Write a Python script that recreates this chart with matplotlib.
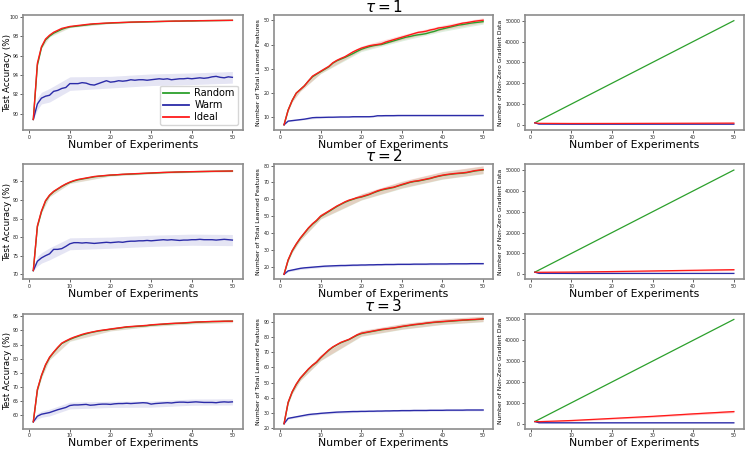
import numpy as np
import matplotlib
matplotlib.use("Agg")
import matplotlib.pyplot as plt

x = np.arange(1, 51)
x_band = np.array([1, 2, 3, 5, 10, 20, 30, 40, 50])
taus = [1, 2, 3]
names = ["Random", "Warm", "Ideal"]
colors = {"Random": "#2ca02c", "Warm": "#2b2ba8", "Ideal": "#ff1a1a"}

# ---- test accuracy (%) ----
acc = {
    1: {
        "Ideal": [89.4, 95.2, 96.9, 97.7, 98.1, 98.4, 98.6, 98.8, 98.9, 99.0,
                  99.05, 99.1, 99.15, 99.2, 99.25, 99.28, 99.3, 99.33, 99.35, 99.37,
                  99.39, 99.4, 99.42, 99.43, 99.45, 99.46, 99.47, 99.48, 99.49, 99.5,
                  99.51, 99.52, 99.53, 99.54, 99.55, 99.56, 99.56, 99.57, 99.58, 99.58,
                  99.59, 99.6, 99.6, 99.61, 99.61, 99.62, 99.62, 99.63, 99.63, 99.64],
        "Random": [89.4, 95.0, 96.8, 97.6, 98.0, 98.3, 98.5, 98.7, 98.85, 98.95,
                   99.0, 99.05, 99.1, 99.15, 99.2, 99.25, 99.28, 99.3, 99.33, 99.35,
                   99.37, 99.39, 99.4, 99.42, 99.44, 99.45, 99.46, 99.47, 99.48, 99.49,
                   99.5, 99.51, 99.52, 99.53, 99.54, 99.55, 99.55, 99.56, 99.57, 99.57,
                   99.58, 99.59, 99.6, 99.6, 99.61, 99.61, 99.62, 99.62, 99.63, 99.63],
        "Warm": [89.4, 91.0, 91.6, 91.8, 91.9, 92.3, 92.4, 92.6, 92.7, 93.1,
                 93.1, 93.1, 93.2, 93.15, 93.0, 92.95, 93.1, 93.25, 93.4, 93.25,
                 93.3, 93.4, 93.35, 93.4, 93.5, 93.45, 93.5, 93.5, 93.45, 93.5,
                 93.55, 93.6, 93.55, 93.6, 93.5, 93.55, 93.6, 93.6, 93.65, 93.6,
                 93.65, 93.7, 93.65, 93.7, 93.8, 93.85, 93.75, 93.7, 93.8, 93.75],
    },
    2: {
        "Ideal": [71.0, 83.0, 87.0, 89.8, 91.3, 92.3, 93.0, 93.7, 94.3, 94.8,
                  95.2, 95.5, 95.7, 95.9, 96.1, 96.3, 96.4, 96.5, 96.6, 96.7,
                  96.75, 96.8, 96.9, 96.95, 97.0, 97.05, 97.1, 97.15, 97.2, 97.25,
                  97.3, 97.35, 97.4, 97.42, 97.45, 97.5, 97.52, 97.55, 97.57, 97.6,
                  97.62, 97.64, 97.66, 97.68, 97.7, 97.72, 97.73, 97.75, 97.76, 97.78],
        "Random": [71.0, 82.8, 86.8, 89.6, 91.2, 92.2, 92.9, 93.6, 94.2, 94.7,
                   95.1, 95.4, 95.6, 95.8, 96.0, 96.2, 96.35, 96.45, 96.55, 96.65,
                   96.7, 96.8, 96.85, 96.9, 96.95, 97.0, 97.05, 97.1, 97.15, 97.2,
                   97.25, 97.3, 97.35, 97.4, 97.43, 97.46, 97.5, 97.52, 97.55, 97.57,
                   97.6, 97.62, 97.64, 97.66, 97.68, 97.7, 97.72, 97.73, 97.75, 97.76],
        "Warm": [71.0, 73.5, 74.4, 75.0, 75.5, 76.7, 76.7, 76.9, 77.5, 78.2,
                 78.5, 78.5, 78.4, 78.5, 78.4, 78.3, 78.4, 78.5, 78.6, 78.5,
                 78.6, 78.7, 78.6, 78.8, 78.9, 78.9, 79.0, 79.0, 79.1, 79.0,
                 79.1, 79.2, 79.3, 79.2, 79.3, 79.2, 79.1, 79.2, 79.2, 79.3,
                 79.3, 79.4, 79.3, 79.3, 79.3, 79.2, 79.3, 79.4, 79.3, 79.2],
    },
    3: {
        "Ideal": [57.5, 69.0, 74.0, 77.8, 80.5, 82.3, 84.0, 85.5, 86.3, 87.0,
                  87.6, 88.1, 88.6, 89.0, 89.3, 89.6, 89.9, 90.1, 90.3, 90.5,
                  90.7, 90.9, 91.1, 91.3, 91.4, 91.5, 91.6, 91.7, 91.8, 92.0,
                  92.1, 92.2, 92.3, 92.4, 92.5, 92.55, 92.6, 92.7, 92.8, 92.9,
                  93.0, 93.05, 93.1, 93.15, 93.2, 93.2, 93.25, 93.3, 93.3, 93.3],
        "Random": [57.5, 68.8, 73.8, 77.6, 80.3, 82.2, 83.8, 85.3, 86.1, 86.8,
                   87.4, 87.9, 88.4, 88.8, 89.2, 89.5, 89.8, 90.0, 90.2, 90.4,
                   90.6, 90.8, 91.0, 91.2, 91.3, 91.4, 91.5, 91.6, 91.7, 91.9,
                   92.0, 92.1, 92.2, 92.3, 92.4, 92.5, 92.55, 92.6, 92.7, 92.8,
                   92.9, 93.0, 93.05, 93.1, 93.15, 93.2, 93.2, 93.25, 93.3, 93.3],
        "Warm": [57.5, 59.5, 60.2, 60.5, 60.8, 61.3, 61.8, 62.2, 62.6, 63.3,
                 63.5, 63.5, 63.6, 63.7, 63.4, 63.5, 63.7, 63.8, 63.8, 63.7,
                 63.9, 64.0, 64.0, 64.1, 64.0, 64.1, 64.2, 64.3, 64.2, 63.8,
                 64.0, 64.1, 64.2, 64.3, 64.2, 64.4, 64.5, 64.5, 64.4, 64.5,
                 64.6, 64.5, 64.4, 64.4, 64.4, 64.3, 64.5, 64.6, 64.5, 64.6],
    },
}
acc_std = {
    1: {"Ideal": [0, 0.1, 0.1, 0.1, 0.08, 0.05, 0.04, 0.03, 0.03],
        "Random": [0, 0.1, 0.1, 0.1, 0.08, 0.05, 0.04, 0.03, 0.03],
        "Warm": [0, 0.6, 0.6, 0.7, 0.7, 0.6, 0.6, 0.6, 0.6]},
    2: {"Ideal": [0, 0.4, 0.4, 0.4, 0.3, 0.25, 0.2, 0.2, 0.2],
        "Random": [0, 0.4, 0.4, 0.4, 0.3, 0.25, 0.2, 0.2, 0.2],
        "Warm": [0, 1.3, 1.4, 1.6, 1.6, 1.5, 1.5, 1.5, 1.5]},
    3: {"Ideal": [0, 0.7, 0.8, 0.8, 0.7, 0.6, 0.5, 0.5, 0.5],
        "Random": [0, 0.7, 0.8, 0.8, 0.7, 0.6, 0.5, 0.5, 0.5],
        "Warm": [0, 1.0, 1.1, 1.2, 1.2, 1.1, 1.1, 1.1, 1.1]},
}

# ---- number of total learned features ----
feat = {
    1: {
        "Ideal": [7, 13, 17, 20, 21.5, 23, 25, 27, 28, 29,
                  30, 31, 32.5, 33.5, 34.3, 35, 36, 37, 37.8, 38.5,
                  39, 39.5, 39.8, 40, 40.3, 41, 41.5, 42, 42.5, 43,
                  43.5, 44, 44.5, 45, 45.2, 45.5, 46, 46.3, 46.8, 47,
                  47.3, 47.6, 48, 48.4, 48.8, 49, 49.3, 49.6, 49.8, 50],
        "Random": [7, 13, 17, 20, 21.5, 23, 25, 26.7, 27.8, 28.8,
                   29.8, 30.8, 32.3, 33.3, 34, 34.7, 35.5, 36.3, 37.2, 38,
                   38.6, 39.1, 39.5, 39.8, 40, 40.5, 41, 41.5, 42, 42.5,
                   43, 43.3, 43.7, 44, 44.2, 44.5, 45, 45.4, 46, 46.4,
                   46.8, 47.2, 47.6, 48, 48.2, 48.5, 48.8, 49, 49.2, 49.4],
        "Warm": [7, 8.5, 8.7, 8.9, 9.1, 9.3, 9.6, 9.9, 10.0, 10.0,
                 10.05, 10.1, 10.1, 10.15, 10.2, 10.2, 10.2, 10.3, 10.3, 10.3,
                 10.3, 10.3, 10.4, 10.7, 10.7, 10.75, 10.75, 10.75, 10.8, 10.8,
                 10.8, 10.8, 10.8, 10.8, 10.8, 10.8, 10.8, 10.8, 10.8, 10.8,
                 10.8, 10.8, 10.8, 10.8, 10.8, 10.8, 10.8, 10.8, 10.8, 10.8],
    },
    2: {
        "Ideal": [15.5, 24, 29.5, 33.5, 37, 40, 43, 45.5, 47.5, 50,
                  51.5, 53, 54.5, 56, 57.2, 58.5, 59.5, 60.2, 61, 61.5,
                  62.3, 63, 64, 65, 65.7, 66.3, 66.8, 67.2, 68, 68.8,
                  69.5, 70.2, 70.7, 71, 71.5, 72, 72.5, 73.2, 73.8, 74.3,
                  74.7, 75, 75.3, 75.5, 75.7, 76, 76.5, 77, 77.3, 77.6],
        "Random": [15.5, 23.8, 29.3, 33.3, 36.8, 39.8, 42.8, 45.2, 47.2, 49.7,
                   51.2, 52.7, 54.2, 55.7, 57, 58.2, 59.2, 60, 60.8, 61.3,
                   62, 62.8, 63.8, 64.7, 65.5, 66, 66.5, 67, 67.8, 68.5,
                   69.2, 70, 70.5, 70.8, 71.3, 71.8, 72.3, 73, 73.6, 74.1,
                   74.5, 74.8, 75.1, 75.3, 75.5, 75.8, 76.3, 76.8, 77.1, 77.4],
        "Warm": [15.5, 17.5, 18.0, 18.5, 19.0, 19.3, 19.5, 19.7, 19.9, 20.1,
                 20.3, 20.4, 20.5, 20.6, 20.7, 20.7, 20.8, 20.9, 20.9, 21.0,
                 21.0, 21.1, 21.1, 21.2, 21.2, 21.3, 21.3, 21.3, 21.4, 21.4,
                 21.4, 21.4, 21.5, 21.5, 21.5, 21.5, 21.6, 21.6, 21.6, 21.6,
                 21.6, 21.7, 21.7, 21.7, 21.7, 21.7, 21.8, 21.8, 21.8, 21.8],
    },
    3: {
        "Ideal": [23, 37, 44, 49, 53, 56, 59, 61.5, 63.5, 66.5,
                  69, 71.5, 73.5, 75, 76.5, 77.5, 78.5, 80, 81.5, 82.5,
                  83, 83.5, 84, 84.5, 85, 85.3, 85.7, 86, 86.5, 87,
                  87.4, 87.8, 88.2, 88.5, 88.8, 89.2, 89.5, 89.8, 90, 90.2,
                  90.4, 90.6, 90.8, 91, 91.2, 91.3, 91.5, 91.6, 91.8, 92],
        "Random": [23, 36.8, 43.8, 48.8, 52.8, 55.8, 58.8, 61.3, 63.3, 66.2,
                   68.8, 71.2, 73.2, 74.8, 76.2, 77.3, 78.3, 79.8, 81.2, 82.2,
                   82.8, 83.3, 83.8, 84.3, 84.8, 85.1, 85.5, 85.8, 86.3, 86.8,
                   87.2, 87.6, 88, 88.3, 88.6, 89, 89.3, 89.6, 89.8, 90,
                   90.2, 90.4, 90.6, 90.8, 91, 91.1, 91.3, 91.4, 91.6, 91.8],
        "Warm": [23, 26.5, 27, 27.5, 28, 28.5, 29, 29.3, 29.5, 29.8,
                 30, 30.2, 30.4, 30.6, 30.7, 30.8, 30.9, 31, 31, 31.1,
                 31.1, 31.2, 31.2, 31.3, 31.3, 31.4, 31.4, 31.5, 31.5, 31.6,
                 31.6, 31.6, 31.7, 31.7, 31.7, 31.7, 31.8, 31.8, 31.8, 31.8,
                 31.9, 31.9, 31.9, 31.9, 31.9, 32, 32, 32, 32, 32],
    },
}
feat_std = {
    1: {"Ideal": [0, 0.5, 0.6, 0.7, 0.8, 0.9, 1.0, 1.0, 1.0],
        "Random": [0, 0.5, 0.6, 0.7, 0.8, 0.9, 1.0, 1.0, 1.0],
        "Warm": [0, 0.2, 0.2, 0.2, 0.2, 0.2, 0.2, 0.2, 0.2]},
    2: {"Ideal": [0, 0.8, 1.0, 1.2, 1.5, 1.8, 2.0, 2.2, 2.3],
        "Random": [0, 0.8, 1.0, 1.2, 1.5, 1.8, 2.0, 2.2, 2.3],
        "Warm": [0, 0.5, 0.6, 0.6, 0.6, 0.5, 0.5, 0.5, 0.5]},
    3: {"Ideal": [0, 1.0, 1.2, 1.5, 1.8, 1.8, 1.8, 1.8, 1.8],
        "Random": [0, 1.0, 1.2, 1.5, 1.8, 1.8, 1.8, 1.8, 1.8],
        "Warm": [0, 0.5, 0.6, 0.6, 0.6, 0.5, 0.5, 0.5, 0.5]},
}

# ---- number of non-zero gradient data ----
x_grad = [1, 2, 10, 20, 30, 40, 50]
grad = {
    1: {"Random": [1000, 2000, 10000, 20000, 30000, 40000, 50000],
        "Warm": [1000, 400, 350, 350, 350, 350, 350],
        "Ideal": [1000, 750, 680, 700, 750, 800, 850]},
    2: {"Random": [1000, 2000, 10000, 20000, 30000, 40000, 50000],
        "Warm": [1000, 450, 420, 420, 420, 420, 420],
        "Ideal": [1000, 950, 1050, 1300, 1600, 1900, 2200]},
    3: {"Random": [1000, 2000, 10000, 20000, 30000, 40000, 50000],
        "Warm": [1000, 450, 420, 420, 420, 420, 420],
        "Ideal": [1000, 950, 1500, 2500, 3500, 4700, 5800]},
}
grad_std = {
    1: {"Random": [0, 0, 0, 0, 0, 0, 0],
        "Warm": [0, 150, 150, 150, 150, 150, 150],
        "Ideal": [0, 200, 250, 300, 300, 350, 400]},
    2: {"Random": [0, 0, 0, 0, 0, 0, 0],
        "Warm": [0, 150, 150, 150, 150, 150, 150],
        "Ideal": [0, 200, 250, 300, 300, 350, 400]},
    3: {"Random": [0, 0, 0, 0, 0, 0, 0],
        "Warm": [0, 200, 200, 200, 200, 200, 200],
        "Ideal": [0, 200, 300, 350, 400, 450, 500]},
}

acc_ylim = {1: (88.3, 100.2), 2: (68.6, 99.6), 3: (55.0, 96.0)}
acc_ticks = {1: [90, 92, 94, 96, 98, 100], 2: [70, 75, 80, 85, 90, 95],
             3: [60, 65, 70, 75, 80, 85, 90, 95]}
feat_ylim = {1: (4.8, 52.2), 2: (12.4, 80.8), 3: (19.6, 95.4)}

fig, axes = plt.subplots(3, 3, figsize=(7.47, 4.5), dpi=100)
fig.subplots_adjust(left=0.031, right=0.996, bottom=0.047, top=0.967,
                    wspace=0.143, hspace=0.296)


def style(ax, ylabel, ysize):
    for s in ax.spines.values():
        s.set_color("#8c8c8c")
        s.set_linewidth(1.2)
    ax.tick_params(labelsize=3.4, length=2, width=0.5, pad=1.2, colors="#222222")
    ax.set_xlabel("Number of Experiments", fontsize=7.8, labelpad=0)
    ax.set_ylabel(ylabel, fontsize=ysize, labelpad=1.5)
    ax.set_xticks([0, 10, 20, 30, 40, 50])


def band(ax, xs, mean, std, c, alpha):
    m = np.asarray(mean)
    s = np.asarray(std)
    ax.fill_between(np.asarray(xs), m - s, m + s, color=c, alpha=alpha, lw=0)


for r, t in enumerate(taus):
    ax = axes[r, 0]
    for n in names:
        m = np.array(acc[t][n])
        band(ax, x_band, m[x_band - 1], acc_std[t][n], colors[n], 0.12)
    for n in names:
        ax.plot(x, acc[t][n], color=colors[n], lw=1.0, label=n)
    ax.set_ylim(*acc_ylim[t])
    ax.set_yticks(acc_ticks[t])
    style(ax, "Test Accuracy (%)", 6.3)
    ax.yaxis.set_label_coords(-0.052, 0.5)
    if r == 0:
        leg = ax.legend(loc="lower right", fontsize=7, handlelength=2.6,
                        borderpad=0.3, labelspacing=0.2, handletextpad=0.6)
        for h in leg.get_lines():
            h.set_linewidth(1.3)

    ax = axes[r, 1]
    for n in names:
        m = np.array(feat[t][n])
        band(ax, x_band, m[x_band - 1], feat_std[t][n], colors[n], 0.15)
    for n in names:
        ax.plot(x, feat[t][n], color=colors[n], lw=1.0)
    ax.set_ylim(*feat_ylim[t])
    style(ax, "Number of Total Learned Features", 4.5)
    ax.set_title(r"$\tau = %d$" % t, fontsize=11, pad=1.5)

    ax = axes[r, 2]
    for n in names:
        band(ax, x_grad, grad[t][n], grad_std[t][n], colors[n], 0.3)
    for n in names:
        ax.plot(x_grad, grad[t][n], color=colors[n], lw=0.9)
    ax.set_ylim(-2500, 52800)
    ax.set_yticks([0, 10000, 20000, 30000, 40000, 50000])
    style(ax, "Number of Non-Zero Gradient Data", 4.3)

for ax in axes.flat:
    ax.set_xlim(-1.5, 52.5)

fig.savefig("out.png", dpi=100)
